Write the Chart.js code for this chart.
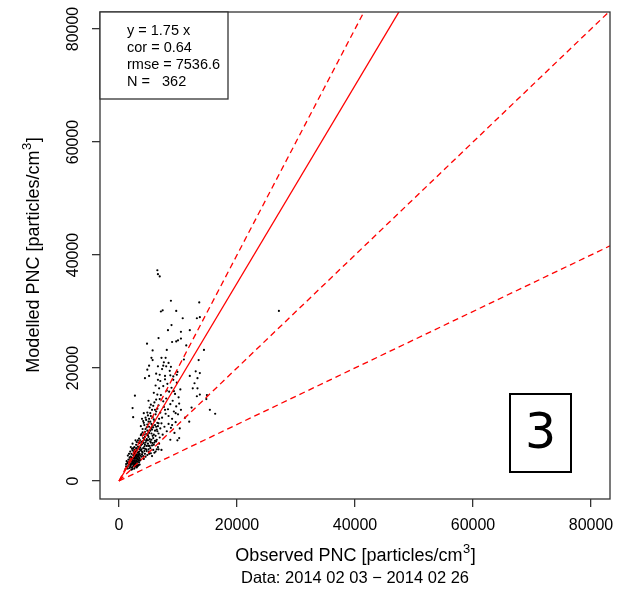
<!DOCTYPE html>
<html><head><meta charset="utf-8">
<script src="https://cdn.jsdelivr.net/npm/chart.js@4.4.0/dist/chart.umd.min.js"></script>
<style>html,body{margin:0;padding:0;background:#fff;}canvas{display:block;}</style>
</head><body>
<canvas id="c" width="625" height="590"></canvas>
<script>
// Observed (x) and modelled (y) PNC, particles/cm3 — 362 points
const obsPNC = [
 1200,1400,1500,1600,1700,1800,1900,2000,2100,2100, 2200,2300,2300,2400,2500,2500,2600,2600,2700,2700,
 2800,2800,2900,2900,3000,3000,3100,3100,3200,3200, 3300,3300,3400,3400,3500,3500,1300,1500,1700,1900,
 2000,2200,2400,2400,2600,2800,3000,3100,3300,3400, 1600,1800,2000,2200,2300,2500,2700,2700,2900,3000,
 3200,3200,3500,3500,1100,1400,1800,2100,2500,2600, 2900,3100,3300,3400,2000,2300,2800,3000,2200,2600,
 1700,2900,3200,3400,3300,2500,2100,1900,2400,2800, 3100,3500,2700,3000,2300,1500,3200,2600,1200,2200,
 3600,3700,3800,3800,3900,4000,4000,4100,4200,4200, 4300,4400,4400,4500,4500,4600,4700,4700,4800,4800,
 4900,5000,5000,5100,5200,5200,5300,5400,5400,5500, 5600,5600,5700,5800,5800,5900,6000,6000,6100,6200,
 6200,6300,6400,6500,6500,6600,6700,6800,6900,7000, 3600,3700,3900,4000,4100,4300,4300,4600,4600,4900,
 5000,5100,5300,5300,5500,5500,5700,5700,5900,6100, 6300,6400,6600,6700,6900,3800,4200,4400,4800,5100,
 5400,5600,5800,6000,6200,6500,6800,7000,3700,4100, 4500,4900,5200,5600,6000,6300,6700,4400,4700,5100,
 5300,5800,6100,6400,3500,3900,4200,4600,5000,5400,
 1900,2400,2700,3000,3300,3600,3800,4100,4400,4700, 5000,5200,3600,3900,4200,4500,4800,5100,5500,5900,
 2600,2900,3200,3700,4000,4300,4900,5300,5700,6100,
 7200,6700,10200,9900,8700,11900,7100,7300,7400,7500, 7600,7700,7800,7900,8000,8100,8200,8300,8400,8500,
 8600,8700,8800,8900,9000,9100,9200,9300,9400,9500, 9600,9700,9800,10000,10100,10300,10400,10500,7200,7500,
 7800,8100,8400,8700,9000,9300,9600,9900,10200,7000, 7300,6800,6500,6200,6900,8000,7600,5900,6300,6600,
 6500,6600,6900,8800,13600,7100,7400,9700,10800,13200, 13700,12000,8900,8300,6700,10500,10000,9700,9000,4750,
 5700,14400,8100,11400,5500,5700,7200,7900,6600,5100, 4800,7500,8400,8800,5100,4400,6300,7800,9200,9800,
 13000,13700,13300,12800,12000,13700,13200,13300,12500,14800, 16300,2700,2300,2400,27100,13500,14900,15400,10500,11000,
 12300,11200
];
const modPNC = [
 2600,3100,2200,3800,2900,4200,2500,3400,4800,2000, 3000,3900,5400,2600,4400,3300,6000,2200,3700,5000,
 2900,4300,3500,6400,2400,4700,3100,5600,3900,2700, 4400,6800,3300,5200,2900,4000,3500,4500,3300,5200,
 2800,4100,3600,5800,4100,3300,3600,4300,3700,4700, 2700,3600,4300,2400,3300,5100,2500,4600,4000,5300,
 3400,6100,3600,5600,2100,2500,2300,3700,2800,3500, 2700,3800,2800,4200,6000,6600,7200,6900,5700,5500,
 4800,5800,5000,7500,5900,4000,3100,3900,4600,5200, 2600,4800,3100,4100,2100,3300,4600,3000,3000,3500,
 7200,5400,8300,4300,6500,9200,5000,7600,10300,3900, 6100,8700,4800,11200,6800,5600,9500,7400,4600,12100,
 8100,6200,10500,5200,9000,13000,7000,11500,4900,8400, 6300,12600,9800,5500,7600,10900,13900,6800,8900,11800,
 5200,9600,7300,12800,10300,6000,8400,11000,14500,9300, 5900,9700,4700,7000,5800,9900,7300,8300,10800,6600,
 7800,9600,5800,12000,7300,10100,6700,11300,8200,7100, 12300,5600,9700,13400,7700,6900,8200,5700,10000,8500,
 6800,9100,13300,10600,8000,8800,6600,12100,8100,10600, 9200,11600,6200,4400,5000,7000,10200,6400,5300,4800,
 8900,9500,12600,9100,6700,11000,12000,7100,14200,13500,
 3000,3100,4000,3100,5000,4500,5600,4400,7800,6200, 5600,7400,3700,5200,6700,4300,8900,11000,9400,6400,
 4800,4500,7200,6300,8600,5300,7200,10500,8000,9900,
 5500,5600,7600,7200,7300,10500,15200,11200,8200,16800, 13100,9600,18000,11900,14600,8800,17200,12700,10100,15800,
 19500,13600,9400,16500,11000,14200,18500,12300,8500,15400, 10400,13200,17400,11800,14800,9300,16200,12600,10200,14100,
 12600,16000,11500,18700,9900,15900,12000,19300,13700,17700, 19800,16400,15300,16900,18800,20300,21000,15600,14400,17900,
 37300,36600,36200,31900,31600,30000,30200,30100,28800,28800, 29000,26700,27600,26700,25300,25200,24900,24700,24600,24300,
 23100,23200,23200,24000,21800,21400,21800,21800,20300,20400, 19700,20400,20900,20200,18600,18200,19000,18600,17900,18800,
 19400,19100,18200,17300,18600,15300,15000,16400,16400,14500, 11900,15100,12900,11300,30100,21400,15200,12600,26400,21500,
 13000,11200
];

// Reference lines through the origin: y = slope * x
const refSlopes = [2, 1.75, 1, 0.5];
const refDashed = [true, false, true, true];

// Axes
const xTicks = [0, 20000, 40000, 60000, 80000];
const yTicks = [0, 20000, 40000, 60000, 80000];
const xRange = [-3220, 83220];
const yRange = [-3190, 83010];

const statsLines = ['y = 1.75 x', 'cor = 0.64', 'rmse = 7536.6', 'N =   362'];
const panelLabel = '3';
const xTitle = ['Observed PNC [particles/cm', '3', ']'];
const yTitle = ['Modelled PNC [particles/cm', '3', ']'];
const dataNote = 'Data: 2014 02 03 \u2212 2014 02 26';

const FONT = '"Liberation Sans", Arial, Helvetica, sans-serif';

const scatterData = obsPNC.map((v, i) => ({x: v, y: modPNC[i]}));
const lineSets = refSlopes.map((s, i) => ({
  type: 'line',
  data: [{x: 0, y: 0}, {x: xRange[1], y: s * xRange[1]}],
  borderColor: '#ff0000',
  borderWidth: 1.3,
  borderDash: refDashed[i] ? [6, 4] : [],
  pointRadius: 0,
  fill: false,
  showLine: true,
  order: 0
}));

function drawSup(ctx, parts, size) {
  const f = s => s + 'px ' + FONT;
  ctx.font = f(size); const w1 = ctx.measureText(parts[0]).width; const w3 = ctx.measureText(parts[2]).width;
  ctx.font = f(size * 0.72); const w2 = ctx.measureText(parts[1]).width;
  const total = w1 + w2 + w3;
  const sx = -total / 2, base = size * 0.36;
  ctx.textAlign = 'left'; ctx.textBaseline = 'alphabetic';
  ctx.font = f(size); ctx.fillText(parts[0], sx, base);
  ctx.font = f(size * 0.72); ctx.fillText(parts[1], sx + w1 + 0.5, base - size * 0.45);
  ctx.font = f(size); ctx.fillText(parts[2], sx + w1 + w2 + 1, base);
}

const overlay = {
  id: 'overlay',
  afterDraw(chart) {
    const {ctx, chartArea: a, scales: {x, y}} = chart;
    ctx.save();
    ctx.strokeStyle = '#333'; ctx.lineWidth = 1.3;
    ctx.strokeRect(a.left, a.top, a.right - a.left, a.bottom - a.top);
    ctx.fillStyle = '#000';
    ctx.font = '16px ' + FONT;
    ctx.textAlign = 'center'; ctx.textBaseline = 'middle';
    xTicks.forEach(v => ctx.fillText(String(v), x.getPixelForValue(v), 526));
    yTicks.forEach(v => {
      ctx.save(); ctx.translate(74, y.getPixelForValue(v)); ctx.rotate(-Math.PI / 2);
      ctx.fillText(String(v), 0, 0); ctx.restore();
    });
    // titles
    ctx.save(); ctx.translate((a.left + a.right) / 2, 555); drawSup(ctx, xTitle, 18); ctx.restore();
    ctx.save(); ctx.translate(33, (a.top + a.bottom) / 2); ctx.rotate(-Math.PI / 2); drawSup(ctx, yTitle, 18); ctx.restore();
    ctx.font = '16.5px ' + FONT; ctx.textAlign = 'center'; ctx.textBaseline = 'middle';
    ctx.fillText(dataNote, (a.left + a.right) / 2, 578);
    // stats box
    ctx.fillStyle = '#fff'; ctx.fillRect(a.left, a.top, 128, 87);
    ctx.strokeStyle = '#333'; ctx.lineWidth = 1.3;
    ctx.strokeRect(a.left, a.top, 128, 87);
    ctx.fillStyle = '#000'; ctx.font = '14.5px ' + FONT; ctx.textAlign = 'left';
    statsLines.forEach((t, i) => ctx.fillText(t, a.left + 27, a.top + 18.5 + i * 17.3));
    // panel label
    ctx.fillStyle = '#fff'; ctx.fillRect(510, 394, 61, 78);
    ctx.strokeStyle = '#000'; ctx.lineWidth = 2;
    ctx.strokeRect(510, 394, 61, 78);
    ctx.fillStyle = '#000'; ctx.font = '49px "DejaVu Sans", sans-serif';
    ctx.textAlign = 'center'; ctx.textBaseline = 'middle';
    ctx.fillText(panelLabel, 540.5, 435);
    ctx.restore();
  }
};

const axisCommon = (ticksArr) => ({
  type: 'linear',
  afterBuildTicks: s => { s.ticks = ticksArr.map(v => ({value: v})); },
  ticks: {display: false},
  grid: {drawOnChartArea: false, drawTicks: true, tickLength: 8, color: '#333', lineWidth: 1.3},
  border: {display: false}
});

new Chart(document.getElementById('c'), {
  type: 'scatter',
  data: {
    datasets: [
      {data: scatterData, pointRadius: 1.1, pointBackgroundColor: '#000', pointBorderWidth: 0, order: 1},
      ...lineSets
    ]
  },
  options: {
    responsive: false, animation: false, devicePixelRatio: 1,
    layout: {padding: {top: 12, right: 15, left: 0, bottom: 0}},
    plugins: {legend: {display: false}, tooltip: {enabled: false}},
    scales: {
      x: Object.assign(axisCommon(xTicks), {min: xRange[0], max: xRange[1], afterFit: s => { s.height = 91; }}),
      y: Object.assign(axisCommon(yTicks), {min: yRange[0], max: yRange[1], afterFit: s => { s.width = 100; }})
    }
  },
  plugins: [overlay]
});
</script>
</body></html>
